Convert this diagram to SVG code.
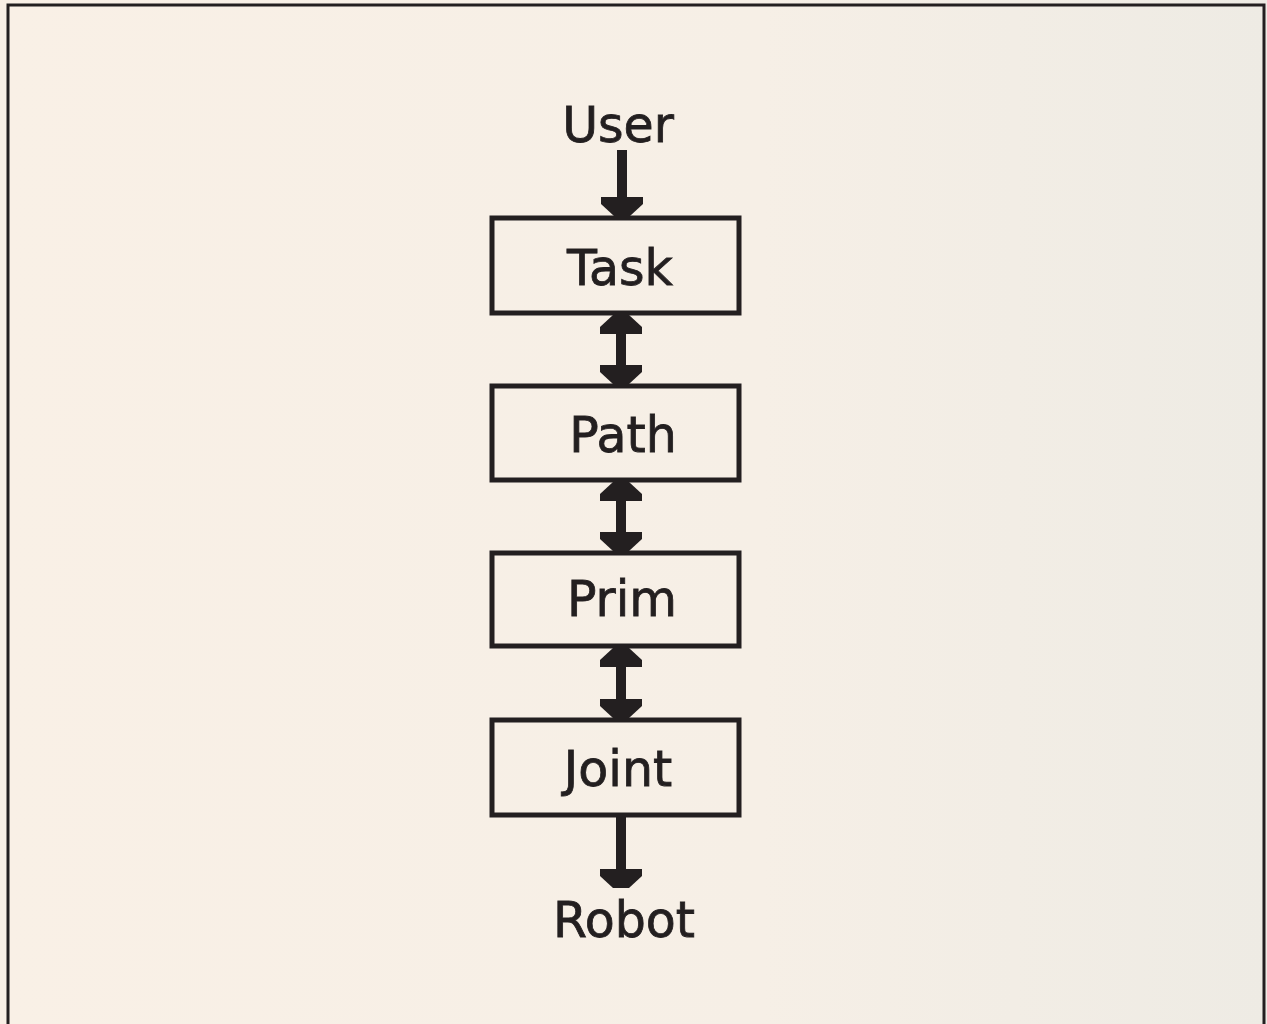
<svg xmlns="http://www.w3.org/2000/svg" xmlns:xlink="http://www.w3.org/1999/xlink" width="1267" height="1024" viewBox="0 0 1267 1024">
  <defs>
    <linearGradient id="paper" x1="0" y1="0" x2="1" y2="0">
      <stop offset="0" stop-color="#f9f0e6"/>
      <stop offset="0.6" stop-color="#f6efe6"/>
      <stop offset="1" stop-color="#eeebe4"/>
    </linearGradient>
    <!-- blunt, stepped arrowhead pointing down, tip at (0,0) -->
    <path id="head" d="M-21,-19 H21 V-12 L8,0 H-8 L-21,-12 Z"/>
    <style>
      .frame { fill: none; stroke: #231f20; stroke-width: 3; }
      .box { fill: none; stroke: #231f20; stroke-width: 5; }
      .label { font-family: "DejaVu Sans", "Liberation Sans", sans-serif; font-size: 49px; fill: #231f20; stroke: #231f20; stroke-width: 0.8; text-anchor: middle; }
      .shaft { stroke: #231f20; stroke-width: 10; }
      .tip { fill: #231f20; }
    </style>
  </defs>

  <rect width="1267" height="1024" fill="url(#paper)"/>
  <path class="frame" d="M8,1024 V5 H1264 V1024"/>

  <g id="user">
    <text class="label" x="618" y="142">User</text>
  </g>
  <g id="task">
    <rect class="box" x="492" y="218" width="247" height="95"/>
    <text class="label" x="620" y="285">Task</text>
  </g>
  <g id="path">
    <rect class="box" x="492" y="386" width="247" height="94"/>
    <text class="label" x="623" y="452">Path</text>
  </g>
  <g id="prim">
    <rect class="box" x="492" y="553" width="247" height="93"/>
    <text class="label" x="622" y="616">Prim</text>
  </g>
  <g id="joint">
    <rect class="box" x="492" y="720" width="247" height="95"/>
    <text class="label" x="618" y="786">Joint</text>
  </g>
  <g id="robot">
    <text class="label" x="624" y="937">Robot</text>
  </g>

  <g id="connectors">
    <!-- User to Task -->
    <line class="shaft" x1="622" y1="150" x2="622" y2="200"/>
    <use class="tip" xlink:href="#head" transform="translate(622,216)"/>
    <!-- Task and Path -->
    <line class="shaft" x1="621" y1="330" x2="621" y2="370"/>
    <use class="tip" xlink:href="#head" transform="translate(621,315) rotate(180)"/>
    <use class="tip" xlink:href="#head" transform="translate(621,384)"/>
    <!-- Path and Prim -->
    <line class="shaft" x1="621" y1="497" x2="621" y2="537"/>
    <use class="tip" xlink:href="#head" transform="translate(621,482) rotate(180)"/>
    <use class="tip" xlink:href="#head" transform="translate(621,551)"/>
    <!-- Prim and Joint -->
    <line class="shaft" x1="621" y1="663" x2="621" y2="704"/>
    <use class="tip" xlink:href="#head" transform="translate(621,648) rotate(180)"/>
    <use class="tip" xlink:href="#head" transform="translate(621,718)"/>
    <!-- Joint to Robot -->
    <line class="shaft" x1="621" y1="817" x2="621" y2="872"/>
    <use class="tip" xlink:href="#head" transform="translate(621,888)"/>
  </g>
</svg>
